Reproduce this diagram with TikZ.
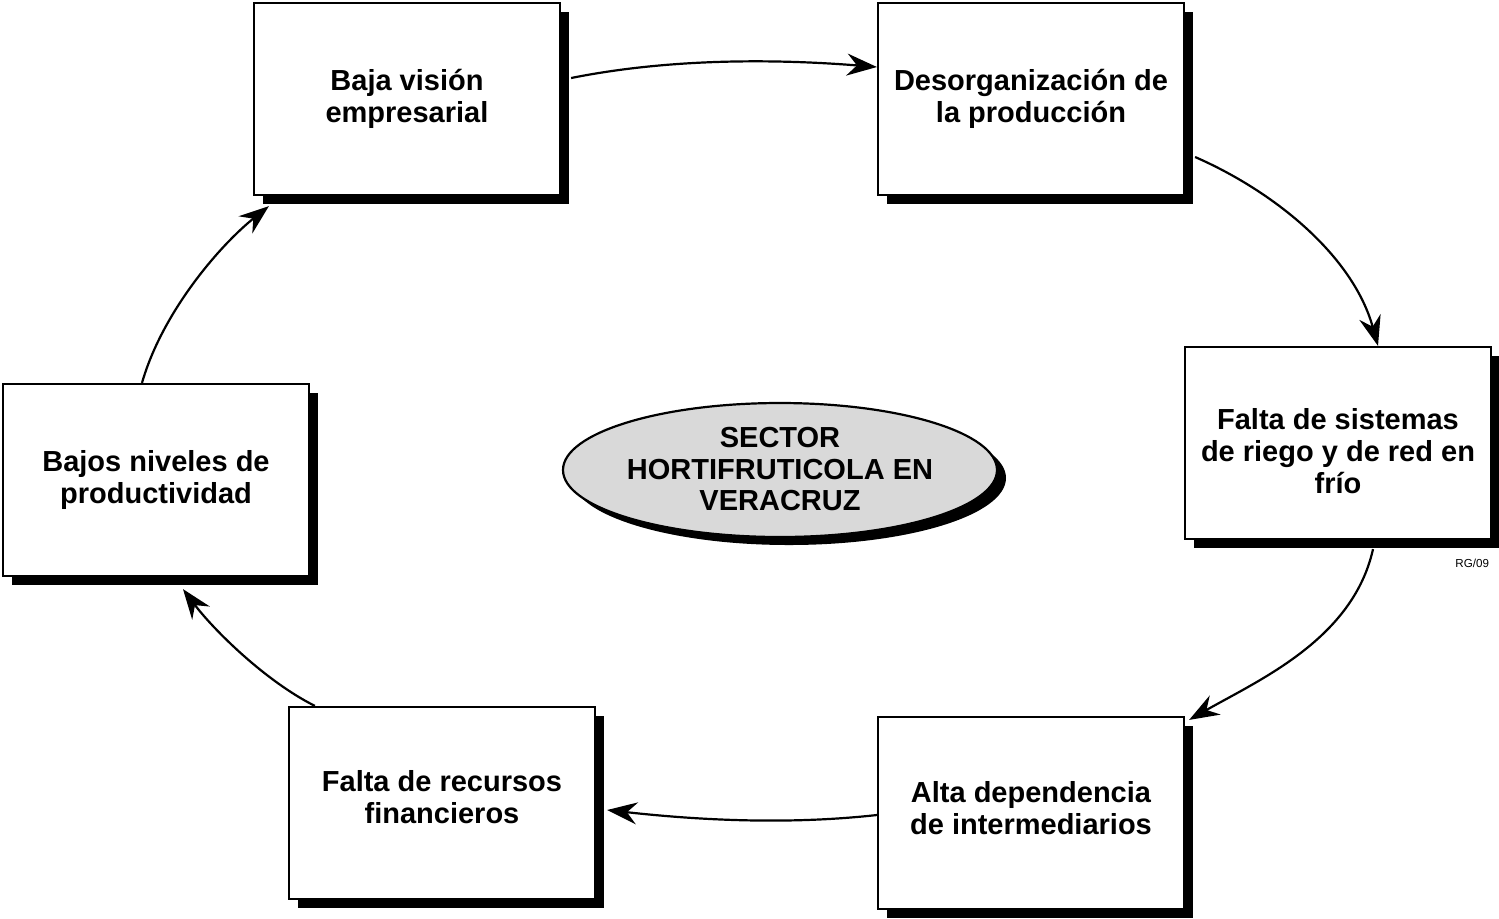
\documentclass[tikz,border=0pt]{standalone}
\usepackage{fontspec}
\setmainfont{Liberation Sans}
\usetikzlibrary{arrows.meta,shapes.geometric,shadows}
\newcommand{\bxtext}[2]{\makebox[0pt]{\smash{\raisebox{#1}{\begin{tabular}{@{}c@{}}#2\end{tabular}}}}}
\begin{document}
\begin{tikzpicture}[x=0.5pt,y=-0.5pt,
  box/.style={draw=black,line width=1.1pt,fill=white,minimum width=153pt,minimum height=96pt,
    inner sep=0pt,font=\fontsize{14.5}{16}\selectfont\bfseries,
    drop shadow={shadow xshift=4.5pt,shadow yshift=-4.5pt,fill=black,opacity=1}},
  hub/.style={ellipse,draw=black,line width=1.1pt,fill=gray!30,minimum width=217pt,minimum height=67pt,
    inner sep=0pt,font=\fontsize{14.5}{15.75}\selectfont\bfseries,
    drop shadow={shadow xshift=4.5pt,shadow yshift=-4pt,fill=black,opacity=1}},
  arr/.style={line width=1.1pt,-{Stealth[length=15pt,width=11pt,inset=5pt]}}]
\useasboundingbox (0,0) rectangle (1499,918);
\node[box] (b1) at (407,99) {\bxtext{-4pt}{Baja visión\\empresarial}};
\node[box] (b2) at (1031,99) {\bxtext{-4pt}{Desorganización de\\la producción}};
\node[box] (b3) at (1338,443) {\bxtext{-9.5pt}{Falta de sistemas\\de riego y de red en\\frío}};
\node[box] (b4) at (1031,813) {\bxtext{-3pt}{Alta dependencia\\de intermediarios}};
\node[box] (b5) at (442,803) {\bxtext{-2.5pt}{Falta de recursos\\financieros}};
\node[box] (b6) at (156,480) {\bxtext{-4pt}{Bajos niveles de\\productividad}};
\node[hub] (c) at (780,470) {\bxtext{-5pt}{SECTOR\\HORTIFRUTICOLA EN\\VERACRUZ}};
\node[font=\fontsize{5.8}{6}\selectfont, anchor=east] (rg) at (1496,563) {RG/09};
\draw[arr] ([xshift=5pt,yshift=10.5pt]b1.east) .. controls +(100,-20) and +(-100,-8) .. ([yshift=16pt]b2.west);
\draw[arr] ([xshift=5pt,yshift=-29pt]b2.east) .. controls +(80,35) and +(-25,-90) .. ([xshift=20pt]b3.north);
\draw[arr] ([xshift=17.5pt,yshift=-4.5pt]b3.south) .. controls +(-20,90) and +(70,-40) .. ([xshift=2pt,yshift=-2pt]b4.north east);
\draw[arr] ([yshift=-1pt]b4.west) .. controls +(-90,10) and +(90,10) .. ([xshift=5.5pt,yshift=-3.5pt]b5.east);
\draw[arr] ([xshift=13.5pt]b5.north west) .. controls +(-50,-25) and +(30,40) .. ([xshift=13.5pt,yshift=-6pt]b6.south);
\draw[arr] ([xshift=-7pt]b6.north) .. controls +(20,-70) and +(-50,40) .. ([xshift=8pt,yshift=-5pt]b1.south west);
\end{tikzpicture}
\end{document}
